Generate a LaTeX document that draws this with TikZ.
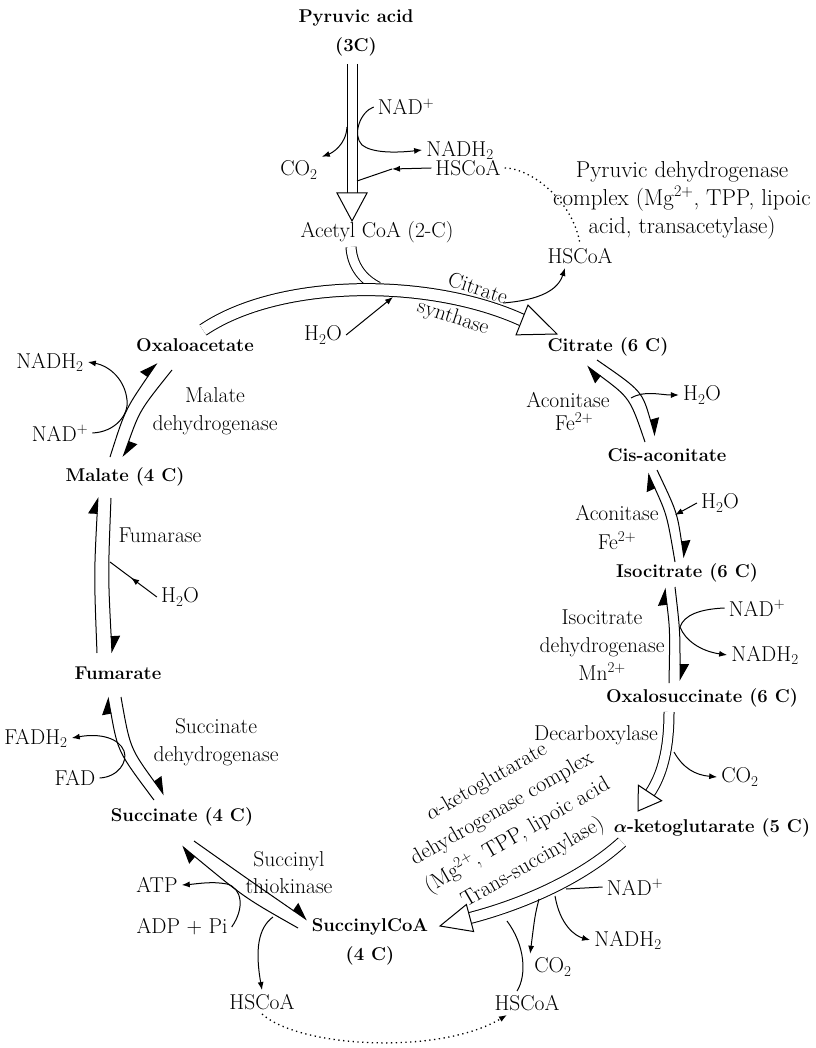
\documentclass[tikz,border=0pt]{standalone}
\usepackage{fontspec}
\usepackage{tikz}
\usetikzlibrary{arrows.meta,calc,positioning,decorations.markings}

\tikzset{
  mol/.style={font=\bfseries\boldmath\fontsize{18.5}{29}\selectfont, inner sep=1pt, align=center},
  enz/.style={font=\fontsize{21.5}{28}\selectfont, inner sep=1pt, align=center},
  sm/.style={font=\fontsize{21.5}{28}\selectfont, inner sep=4pt},
  rxn/.style={line width=1pt},
  dots/.style={line width=1.3pt, dash pattern=on 1.3pt off 3.5pt},
  dbl/.style={line width=1pt, double distance=9pt},
  barb/.style={line width=1pt, -{Triangle[left,length=16pt,width=18pt]}},
  tip/.style={-{Latex[length=8pt,width=6pt]}},
  hollow/.style={draw, fill=white, line width=1pt, line join=miter},
  midtip/.style={postaction={decorate}, decoration={markings,
      mark=at position #1 with {\arrow{Latex[length=8pt,width=6pt]}}}}
}

% open arrow head: base, tip, half width
\newcommand{\openhead}[3]{%
  \draw[hollow] (#2) -- ($(#1)!#3!90:(#2)$) -- ($(#1)!#3!-90:(#2)$) -- cycle;}

\begin{document}
\begin{tikzpicture}[x=1pt,y=-1pt]
\useasboundingbox (0,0) rectangle (815,1048);

% compounds of the cycle
\node[mol] (pyr) at (356,33) {Pyruvic acid\\(3C)};
\node[sm] (acoa) at (377,232) {Acetyl CoA (2-C)};
\node[mol] (oaa) at (195,345) {Oxaloacetate};
\node[mol] (cit) at (608,347) {Citrate (6 C)};
\node[mol] (cis) at (667,455) {Cis-aconitate};
\node[mol] (iso) at (687,573) {Isocitrate (6 C)};
\node[mol] (oxs) at (702,698) {Oxalosuccinate (6 C)};
\node[mol] (akg) at (712,828) {$\alpha$-ketoglutarate (5 C)};
\node[mol] (sca) at (370,942) {SuccinylCoA\\(4 C)};
\node[mol] (suc) at (182,817) {Succinate (4 C)};
\node[mol] (fum) at (118,673) {Fumarate};
\node[mol] (mal) at (125,477) {Malate (4 C)};

% enzymes
\node[enz, font=\fontsize{23}{28}\selectfont] (pdh) at (682,200)
  {Pyruvic dehydrogenase\\complex (Mg\textsuperscript{2+}, TPP, lipoic\\acid, transacetylase)};
\node[enz, rotate=-18] (cs1) at (478,288) {Citrate};
\node[enz, rotate=-18] (cs2) at (453,318) {synthase};
\node[enz, font=\fontsize{21.5}{23}\selectfont] (acn1) at (568,411) {Aconitase\\\hspace*{12pt}Fe\textsuperscript{2+}};
\node[enz, font=\fontsize{21.5}{29}\selectfont] (acn2) at (617,527) {Aconitase\\Fe\textsuperscript{2+}};
\node[enz] (idh) at (602,645) {Isocitrate\\dehydrogenase\\Mn\textsuperscript{2+}};
\node[enz] (dcx) at (596,735) {Decarboxylase};
\node[enz, rotate=30, font=\fontsize{22}{31}\selectfont] (kdh) at (510,823)
  {$\alpha$-ketoglutarate\\dehydrogenase complex\\(Mg\textsuperscript{2+}, TPP, lipoic acid\\Trans-succinylase)};
\node[enz, font=\fontsize{21.5}{27}\selectfont] (stk) at (289,873) {Succinyl\\thiokinase};
\node[enz] (sdh) at (216,742) {Succinate\\dehydrogenase};
\node[enz] (fms) at (160,535) {Fumarase};
\node[enz] (mdh) at (215,411) {Malate\\dehydrogenase};

% small molecules
\node[sm] (nad1) at (406,107) {NAD\textsuperscript{+}};
\node[sm] (nadh1) at (460,150) {NADH\textsubscript{2}};
\node[sm] (co2a) at (299,170) {CO\textsubscript{2}};
\node[sm] (hs1) at (468,168) {HSCoA};
\node[sm] (hs2) at (580,256) {HSCoA};
\node[sm] (h2oa) at (323,335) {H\textsubscript{2}O};
\node[sm] (h2ob) at (702,395) {H\textsubscript{2}O};
\node[sm] (h2oc) at (720,503) {H\textsubscript{2}O};
\node[sm] (nad2) at (757,608) {NAD\textsuperscript{+}};
\node[sm] (nadh2) at (765,655) {NADH\textsubscript{2}};
\node[sm] (co2b) at (740,777) {CO\textsubscript{2}};
\node[sm] (nad3) at (635,887) {NAD\textsuperscript{+}};
\node[sm] (nadh3) at (628,940) {NADH\textsubscript{2}};
\node[sm] (co2c) at (553,967) {CO\textsubscript{2}};
\node[sm] (hs4) at (527,1003) {HSCoA};
\node[sm] (hs3) at (262,1002) {HSCoA};
\node[sm] (atp) at (157,885) {ATP};
\node[sm] (adp) at (182,927) {ADP + Pi};
\node[sm] (fad) at (75,778) {FAD};
\node[sm] (fadh) at (36,738) {FADH\textsubscript{2}};
\node[sm] (h2od) at (180,597) {H\textsubscript{2}O};
\node[sm] (nad4) at (60,433) {NAD\textsuperscript{+}};
\node[sm] (nadh4) at (50,362) {NADH\textsubscript{2}};

% pyruvic acid -> acetyl CoA
\coordinate (p0) at (352,64);
\coordinate (p1) at (352,193);
\coordinate (p2) at (352,221);
\draw[dbl] (p0) -- (p1);
\openhead{p1}{p2}{15pt}
\draw[rxn,tip] (347,127) .. controls (346,145) and (332,153) .. (co2a.north east);
\draw[rxn,tip] (nad1.west) .. controls (360,112) and (352,135) .. (362,145)
  .. controls (372,153) and (395,153) .. (nadh1.west);
\draw[rxn,tip] (hs1.west) -- (392,169);
\draw[rxn] (392,169) -- (357,181);
\draw[dots] (hs1.east) .. controls (530,168) and (573,200) .. (hs2.north);

% citrate synthase
\coordinate (o1) at (203,330);
\coordinate (c1) at (522,320);
\coordinate (c2) at (557,334);
\draw[dbl] (351,247) .. controls (352,265) and (362,279) .. (378,287);
\draw[dbl, double distance=11pt] (o1) .. controls (280,278) and (430,278) .. (c1);
\openhead{c1}{c2}{16pt}
\draw[rxn,tip] (h2oa.east) -- (393,297);
\draw[rxn,tip] (503,303) .. controls (540,300) and (558,290) .. ($(hs2.south)+(-15,0)$);

% citrate <-> cis-aconitate
\draw[barb] (645,442) .. controls (630,398) .. (587,366);
\draw[barb] (597,360) .. controls (642,391) .. (655,436);
\draw[rxn,tip] (631,398) .. controls (645,390) and (660,395) .. (h2ob.west);

% cis-aconitate <-> isocitrate
\draw[barb] (675,562) .. controls (667,515) .. (648,473);
\draw[barb] (657,470) .. controls (677,512) .. (684,558);
\draw[rxn,tip] (h2oc.west) -- (675,515);

% isocitrate <-> oxalosuccinate
\draw[barb] (669,683) .. controls (670,630) .. (665,588);
\draw[barb] (675,587) .. controls (680,630) .. (680,681);
\draw[rxn,tip] (nad2.west) .. controls (700,609) and (684,615) .. (680,627)
  .. controls (685,640) and (700,651) .. (nadh2.west);

% oxalosuccinate -> alpha-ketoglutarate
\coordinate (x1) at (669,712);
\coordinate (x2) at (650,793);
\coordinate (x3) at (638,811);
\draw[dbl] (x1) .. controls (669,750) and (662,775) .. (x2);
\openhead{x2}{x3}{14pt}
\draw[rxn,tip] (674,752) .. controls (683,768) and (695,775) .. (co2b.west);

% alpha-ketoglutarate -> succinyl CoA
\coordinate (k1) at (622,842);
\coordinate (k2) at (470,918);
\coordinate (k3) at (440,926);
\draw[dbl, double distance=10pt] (k1) .. controls (580,880) and (520,905) .. (k2);
\openhead{k2}{k3}{14pt}
\draw[rxn] (nad3.west) -- (566,889);
\draw[rxn,tip] (555,896) .. controls (560,925) and (575,936) .. (nadh3.west);
\draw[rxn,tip] (539,899) .. controls (535,915) .. (co2c.north west);
\draw[rxn] (507,921) .. controls (525,945) and (527,975) .. ($(hs4.north)+(-10,0)$);
\draw[dots,tip] (hs3.south) .. controls (300,1048) and (440,1055) .. ($(hs4.south)+(-20,0)$);

% succinyl CoA <-> succinate
\draw[barb] (298,928) .. controls (245,898) .. (182,846);
\draw[barb] (194,841) .. controls (252,882) .. (307,920);
\draw[rxn,tip] (adp.east) .. controls (245,908) and (242,888) .. (227,884)
  .. controls (212,881) and (196,884) .. (atp.east);
\draw[rxn,tip] (273,917) .. controls (258,928) and (255,950) .. (hs3.north);

% succinate <-> fumarate
\draw[barb] (154,800) .. controls (118,752) .. (108,697);
\draw[barb] (121,697) .. controls (130,748) .. (164,795);
\draw[rxn,tip] (fad.east) .. controls (118,777) and (128,762) .. (124,751)
  .. controls (119,738) and (100,733) .. (fadh.east);

% fumarate <-> malate
\draw[barb] (97,653) .. controls (94,575) .. (98,497);
\draw[barb] (111,498) .. controls (108,575) .. (112,653);
\draw[rxn,midtip=0.55] (h2od.west) -- (110,562);

% malate <-> oxaloacetate
\draw[barb] (110,457) .. controls (125,410) .. (157,363);
\draw[barb] (172,370) .. controls (140,410) .. (123,457);
\draw[rxn,tip] (nad4.east) .. controls (115,432) and (129,415) .. (127,400)
  .. controls (125,380) and (110,366) .. (nadh4.east);
\end{tikzpicture}
\end{document}
